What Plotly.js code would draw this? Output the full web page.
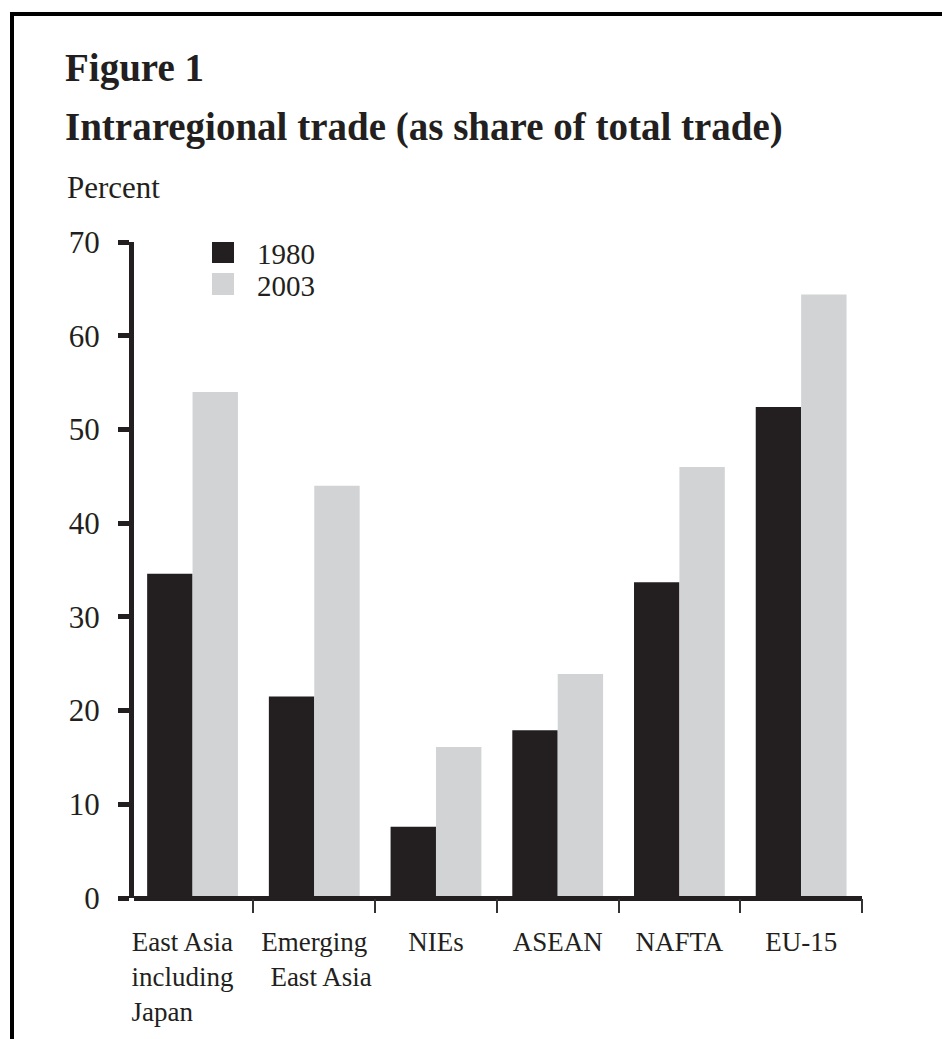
<!DOCTYPE html>
<html>
<head>
<meta charset="utf-8">
<script src="https://cdn.plot.ly/plotly-3.0.1.min.js"></script>
<style>
  html, body { margin: 0; padding: 0; background: #ffffff; overflow: hidden; }
  #frame { position: absolute; left: 10px; top: 12px; width: 2000px; height: 2000px;
           border-top: 4px solid #000; border-left: 4px solid #000; z-index: 5; pointer-events: none; }
  #chart { position: absolute; left: 0; top: 0; width: 942px; height: 1039px; }
</style>
</head>
<body>
<div id="frame"></div>
<div id="chart"></div>
<script>
// ---- data ----
const NB = "\u00a0";
const categories = [
  "East Asia" + NB.repeat(3) + "<br>including" + NB.repeat(3) + "<br>Japan" + NB.repeat(9),
  "Emerging<br>" + NB.repeat(2) + "East Asia",
  "NIEs",
  "ASEAN",
  "NAFTA",
  "EU-15"
];
const seriesNames = ["1980", "2003"];
const values1980 = [34.6, 21.5, 7.6, 17.9, 33.7, 52.4];
const values2003 = [54.0, 44.0, 16.1, 23.9, 46.0, 64.4];
const yTickValues = [0, 10, 20, 30, 40, 50, 60, 70];

// ---- style ----
const DARK = "#231f20";
const LIGHT = "#d1d3d4";
const FONT = "Liberation Serif, Times New Roman, serif";

// plot-area pixel frame
const L = 134, R = 862, T = 242, B = 898;
const W = R - L, H = B - T;
const px2x = p => (p - L) / W;
const px2y = p => (B - p) / H;

const traces = [
  { type: "bar", name: seriesNames[0], x: categories, y: values1980,
    marker: { color: DARK, line: { width: 0 } }, hoverinfo: "x+y+name" },
  { type: "bar", name: seriesNames[1], x: categories, y: values2003,
    marker: { color: LIGHT, line: { width: 0 } }, hoverinfo: "x+y+name" }
];

const layout = {
  width: 942, height: 1039,
  margin: { l: L, r: 942 - R, t: T, b: 1039 - B, pad: 0 },
  paper_bgcolor: "rgba(0,0,0,0)",
  plot_bgcolor: "rgba(0,0,0,0)",
  showlegend: false,
  barmode: "group",
  bargap: 0.254,
  bargroupgap: 0,
  font: { family: FONT, color: DARK },
  xaxis: {
    type: "category",
    range: [-0.481, 5.5],
    tickson: "boundaries",
    tickangle: 0,
    ticks: "outside", ticklen: 14, tickwidth: 2, tickcolor: "#333",
    ticklabelstandoff: 25,
    showline: false, showgrid: false, zeroline: false,
    tickfont: { family: FONT, size: 27, color: DARK },
    fixedrange: true
  },
  yaxis: {
    range: [0, 70],
    tickvals: yTickValues,
    ticktext: yTickValues.map(String),
    ticks: "outside", ticklen: 11, tickwidth: 5, tickcolor: DARK,
    ticklabelstandoff: 12,
    showline: true, linewidth: 5, linecolor: DARK,
    showgrid: false,
    zeroline: true, zerolinewidth: 5, zerolinecolor: DARK, zerolinelayer: "above traces",
    tickfont: { family: FONT, size: 31, color: DARK },
    fixedrange: true
  },
  shapes: [
    { type: "rect", xref: "paper", yref: "paper", layer: "above",
      x0: px2x(212), x1: px2x(234), y0: px2y(263), y1: px2y(242),
      fillcolor: DARK, line: { width: 0 } },
    { type: "rect", xref: "paper", yref: "paper", layer: "above",
      x0: px2x(212), x1: px2x(234), y0: px2y(295), y1: px2y(273),
      fillcolor: LIGHT, line: { width: 0 } }
  ],
  annotations: [
    { text: "<b>Figure 1</b>", xref: "paper", yref: "paper", x: px2x(63), y: px2y(44),
      xanchor: "left", yanchor: "top", showarrow: false, align: "left",
      font: { family: FONT, size: 39, color: DARK } },
    { text: "<b>Intraregional trade (as share of total trade)</b>", xref: "paper", yref: "paper",
      x: px2x(63), y: px2y(103), xanchor: "left", yanchor: "top", showarrow: false, align: "left",
      font: { family: FONT, size: 39, color: DARK } },
    { text: "Percent", xref: "paper", yref: "paper", x: px2x(65), y: px2y(168),
      xanchor: "left", yanchor: "top", showarrow: false, align: "left",
      font: { family: FONT, size: 31, color: DARK } },
    { text: seriesNames[0], xref: "paper", yref: "paper", x: px2x(255), y: px2y(236),
      xanchor: "left", yanchor: "top", showarrow: false, align: "left",
      font: { family: FONT, size: 29, color: DARK } },
    { text: seriesNames[1], xref: "paper", yref: "paper", x: px2x(255), y: px2y(268),
      xanchor: "left", yanchor: "top", showarrow: false, align: "left",
      font: { family: FONT, size: 29, color: DARK } }
  ]
};

Plotly.newPlot("chart", traces, layout, { displayModeBar: false, staticPlot: true });
</script>
</body>
</html>
